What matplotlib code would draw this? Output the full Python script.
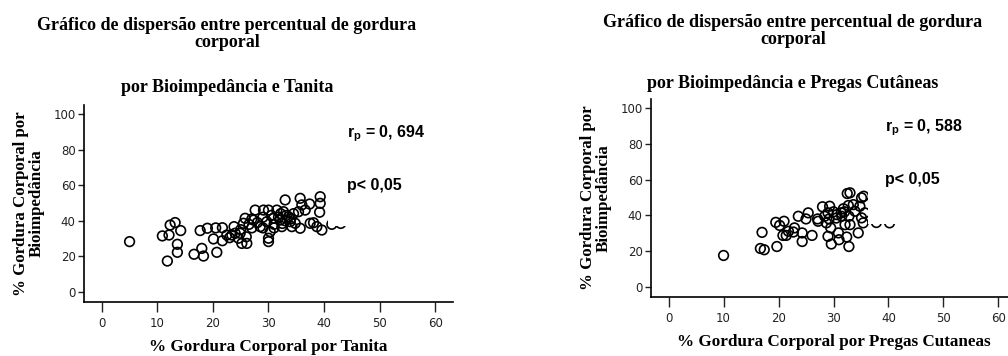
import matplotlib.pyplot as plt
from matplotlib.patches import Rectangle

# =========================
# DADOS
# =========================
tanita_x = [5.0, 11.8, 10.9, 12.1, 12.3, 13.2, 14.2, 13.6, 13.6, 16.6,
            18.0, 18.3, 17.7, 19.0, 20.1, 20.7, 21.7, 21.7, 23.4, 23.8,
            24.6, 25.2, 26.1, 24.9, 25.5, 25.8, 27.3, 27.6, 28.5, 29.1,
            30.0, 29.7, 30.0, 30.0, 30.3, 30.9, 31.5, 32.1, 32.4, 33.0,
            32.7, 33.6, 33.9, 34.2, 34.8, 35.7, 35.7, 36.0, 35.4, 36.6,
            37.4, 37.5, 38.1, 38.7, 39.3, 39.3, 39.2, 39.6, 41.4,
            26.5, 27.0, 28.0, 29.0, 30.5, 31.0, 31.8, 32.2, 33.0, 33.2,
            34.0, 34.5, 32.5, 31.0, 29.0, 27.0, 25.0, 24.0, 22.5, 26.0,
            23.0, 20.5, 43.0]
bio_tanita = [28.3, 17.4, 31.5, 32.0, 37.6, 39.0, 34.5, 26.8, 22.3, 21.2,
              24.5, 20.2, 34.5, 35.8, 29.8, 22.3, 36.1, 28.8, 32.0, 36.7,
              30.2, 27.3, 27.3, 33.0, 38.6, 41.4, 40.4, 46.0, 36.7, 46.0,
              46.0, 39.5, 30.2, 28.3, 33.9, 41.4, 46.0, 40.4, 36.7, 51.7,
              45.1, 42.3, 39.5, 36.7, 38.6, 35.8, 52.6, 48.9, 45.1, 46.0,
              49.4, 38.6, 38.9, 36.7, 53.5, 49.8, 44.8, 34.8, 38.0,
              38.0, 41.0, 39.0, 42.0, 43.0, 38.0, 42.0, 44.0, 40.0, 43.0,
              41.0, 44.0, 38.5, 36.0, 36.0, 36.0, 35.0, 33.0, 32.0, 31.0,
              30.5, 36.0, 38.5]

pregas_x = [10.0, 17.0, 16.7, 17.4, 19.7, 19.5, 20.2, 21.0, 20.8, 21.4,
            21.8, 22.7, 22.9, 23.6, 24.3, 24.3, 25.0, 25.4, 26.1, 27.1,
            27.2, 28.0, 28.4, 28.7, 29.0, 29.3, 29.6, 29.5, 29.0, 30.6,
            30.9, 31.0, 31.4, 31.8, 32.1, 32.4, 32.8, 32.5, 33.0, 32.7,
            32.8, 33.0, 33.6, 33.9, 34.5, 34.8, 35.1, 35.1, 35.4, 35.5,
            35.7, 30.5, 31.5, 32.0, 30.0, 29.2, 37.8, 40.2]
bio_pregas = [17.6, 30.5, 21.5, 20.8, 22.6, 36.1, 34.4, 36.7, 28.8, 28.8,
              31.1, 30.7, 33.0, 39.5, 30.2, 25.4, 38.0, 41.4, 28.8, 38.0,
              36.7, 44.8, 39.5, 35.8, 28.3, 45.1, 24.0, 33.0, 41.4, 40.4,
              30.2, 26.4, 41.4, 43.7, 34.8, 27.9, 22.6, 52.2, 52.6, 45.5,
              39.5, 34.8, 46.0, 42.3, 30.2, 45.1, 49.8, 38.6, 35.8, 50.7,
              41.4, 38.5, 39.5, 42.0, 42.0, 38.0, 36.0, 35.8]

titulo1 = "Gráfico de dispersão entre percentual de gordura\ncorporal"
sub_esq = "por Bioimpedância e Tanita"
sub_dir = "por Bioimpedância e Pregas Cutâneas"
ylabel = "% Gordura Corporal por\nBioimpedância"
xlabel_esq = "% Gordura Corporal por Tanita"
xlabel_dir = "% Gordura Corporal por Pregas Cutaneas"
r_esq = "0, 694"
r_dir = "0, 588"

W, H = 1008, 356
fig = plt.figure(figsize=(W / 100, H / 100), dpi=100)

serif = "Liberation Serif"
sans = "Liberation Sans"


def painel(left, right, bottom, top, xs, ys, corte, xlabel, r_txt, txt_x):
    ax = fig.add_axes([left / W, 1 - bottom / H, (right - left) / W, (bottom - top) / H])
    ax.scatter(xs, ys, s=48, facecolors="none", edgecolors="black", linewidths=1.2, zorder=2)
    # caixa branca do texto que cobre parte dos pontos
    ax.add_patch(Rectangle((corte[0], corte[1]), 40, 100, facecolor="white",
                           edgecolor="none", zorder=3))
    ax.set_xlim(-3.2, 63.2)
    ax.set_ylim(-5.6, 105)
    ax.set_xticks(range(0, 61, 10))
    ax.set_yticks(range(0, 101, 20))
    for s in ["top", "right"]:
        ax.spines[s].set_visible(False)
    ax.spines["left"].set_linewidth(1.2)
    ax.spines["bottom"].set_linewidth(1.2)
    ax.tick_params(axis="y", length=4, width=1, labelsize=8.5, colors="#222222", pad=2)
    ax.tick_params(axis="x", length=7, width=1, labelsize=8.5, colors="#222222", pad=4)
    ax.set_ylabel(ylabel, fontfamily=serif, fontweight="bold", fontsize=12.2, labelpad=6,
                  linespacing=1.0)
    ax.set_xlabel(xlabel, fontfamily=serif, fontweight="bold", fontsize=12.3, labelpad=6.5)
    ax.text(txt_x, 89, "r$_\\mathregular{p}$ = " + r_txt, fontfamily=sans, fontweight="bold",
            fontsize=11.5, va="center", zorder=4)
    ax.text(txt_x, 60, "p< 0,05", fontfamily=sans, fontweight="bold",
            fontsize=11.5, va="center", zorder=4)
    return ax


painel(84, 453, 302, 105, tanita_x, bio_tanita, (40.7, 37.0), xlabel_esq, r_esq, 44.2)
painel(651, 1016, 297, 99, pregas_x, bio_pregas, (36.2, 35.2), xlabel_dir, r_dir, 39.3)

# titulos
fig.text(227 / W, 1 - 34 / H, titulo1, ha="center", va="center", fontfamily=serif,
         fontweight="bold", fontsize=13, linespacing=1.05)
fig.text(227 / W, 1 - 87 / H, sub_esq, ha="center", va="center", fontfamily=serif,
         fontweight="bold", fontsize=13)
fig.text(793 / W, 1 - 31 / H, titulo1, ha="center", va="center", fontfamily=serif,
         fontweight="bold", fontsize=13, linespacing=1.05)
fig.text(793 / W, 1 - 84 / H, sub_dir, ha="center", va="center", fontfamily=serif,
         fontweight="bold", fontsize=13)

fig.savefig("out.png", dpi=100)
